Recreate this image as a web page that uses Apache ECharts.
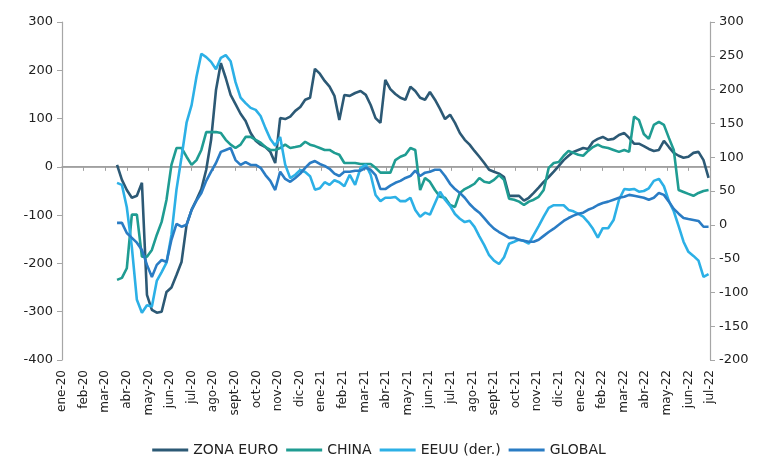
<!DOCTYPE html>
<html>
<head>
<meta charset="utf-8">
<script src="https://cdn.jsdelivr.net/npm/echarts@6/dist/echarts.min.js"></script>
<style>
html,body{margin:0;padding:0;background:#fff;}
#main{width:758px;height:464px;}
</style>
</head>
<body>
<div id="main"></div>
<script>
// etiquetas del eje X (inicio de cada mes)
var monthLabels = ['ene-20','feb-20','mar-20','abr-20','may-20','jun-20','jul-20','ago-20','sept-20','oct-20','nov-20','dic-20',
  'ene-21','feb-21','mar-21','abr-21','may-21','jun-21','jul-21','ago-21','sept-21','oct-21','nov-21','dic-21',
  'ene-22','feb-22','mar-22','abr-22','may-22','jun-22','jul-22'];

// datos semanales desde el 18-mar-2020
var firstDate = '2020-03-18';
var nWeeks = 120;

var zonaEuro = [4,-27,-48,-64,-60,-33,-265,-296,-302,-300,
  -259,-250,-224,-197,-120,-89,-68,-46,-6,56,
  159,215,184,149,130,110,95,70,54,46,
  41,31,8,101,99,104,116,124,139,143,
  203,193,178,166,147,97,149,147,153,157,
  149,128,101,91,180,161,151,143,139,166,
  157,143,139,155,139,120,99,108,91,70,
  56,46,33,21,8,-6,-10,-14,-21,-60,
  -60,-60,-70,-64,-54,-43,-31,-21,-10,2,
  14,23,31,35,39,37,52,58,62,56,
  58,66,70,60,48,48,43,37,33,35,
  54,41,29,23,19,21,29,31,14,-23];

var china = [-234,-230,-210,-99,-99,-186,-186,-172,-141,-114,
  -68,4,39,39,21,4,14,35,72,72,
  72,70,56,46,39,46,62,62,56,50,
  41,35,35,39,46,39,41,43,52,46,
  43,39,35,35,29,25,8,8,8,6,
  6,6,-2,-12,-12,-12,14,21,25,39,
  35,-48,-23,-31,-48,-62,-64,-79,-83,-54,
  -46,-41,-35,-23,-31,-33,-27,-17,-27,-66,
  -68,-72,-79,-72,-68,-62,-48,-2,8,10,
  23,33,29,25,23,33,41,46,41,39,
  35,31,35,31,104,97,68,58,87,93,
  87,60,35,-48,-52,-56,-60,-54,-50,-48];

// EEUU en el eje derecho
var eeuu = [62,59,26,-33,-111,-130,-119,-121,-83,-70,
  -56,-15,52,100,151,177,219,253,248,241,
  230,247,251,242,211,188,180,173,170,161,
  143,127,117,130,89,69,74,81,78,72,
  52,54,63,59,66,63,57,74,59,84,
  89,74,44,35,40,40,41,35,35,40,
  22,12,18,15,32,49,37,28,16,9,
  4,6,-3,-17,-30,-45,-53,-58,-48,-28,
  -25,-22,-24,-28,-15,-2,12,25,29,29,
  29,22,20,16,12,4,-6,-19,-5,-5,
  7,37,53,52,53,49,50,54,65,68,
  57,35,20,-2,-25,-40,-46,-53,-77,-73];

var global = [-116,-116,-137,-147,-157,-172,-203,-228,-203,-193,
  -197,-151,-118,-124,-120,-89,-70,-54,-29,-10,
  8,31,35,39,14,4,10,4,4,-2,
  -17,-29,-48,-10,-25,-31,-23,-14,-2,8,
  12,6,2,-4,-14,-19,-10,-10,-8,-8,
  -2,-6,-17,-46,-46,-39,-33,-29,-23,-19,
  -8,-19,-12,-10,-6,-6,-19,-35,-46,-54,
  -64,-77,-87,-95,-106,-118,-128,-135,-141,-147,
  -147,-151,-153,-155,-155,-151,-143,-135,-128,-120,
  -112,-106,-101,-97,-95,-89,-85,-79,-75,-72,
  -68,-64,-62,-58,-60,-62,-64,-68,-64,-54,
  -58,-72,-87,-97,-106,-108,-110,-112,-124,-124];

var xMin = 0, xMax = 30;
var fontFam = '"DejaVu Sans", sans-serif';
var axisGray = '#a0a0a0';

// posición en meses (0 = ene-20)
function monthPos(d){
  var y = d.getUTCFullYear(), m = d.getUTCMonth();
  var dim = new Date(Date.UTC(y, m + 1, 0)).getUTCDate();
  return (y - 2020) * 12 + m + (d.getUTCDate() - 1) / dim;
}

var t0 = new Date(firstDate + 'T00:00:00Z').getTime();
var xPos = [];
for (var i = 0; i < nWeeks; i++) {
  xPos.push(monthPos(new Date(t0 + i * 7 * 86400000)));
}

function pairs(vals){
  return vals.map(function(v, i){ return [xPos[i], v]; });
}

function mkSeries(name, vals, color, yIdx){
  return {
    name: name, type: 'line', xAxisIndex: 0, yAxisIndex: yIdx,
    data: pairs(vals), showSymbol: false, symbol: 'none', z: 3,
    lineStyle: {color: color, width: 2.6}, itemStyle: {color: color}
  };
}

var gridBox = {left: 62, right: 48, top: 22, bottom: 104};

var chart = echarts.init(document.getElementById('main'));
var option = {
  animation: false,
  backgroundColor: '#fff',
  // grid 0: series y etiquetas; grid 1 (mismo sitio): linea del cero con sus marcas
  grid: [gridBox, gridBox],
  legend: {
    bottom: 2, left: 'center',
    icon: 'rect', itemWidth: 36, itemHeight: 3, itemGap: 8,
    textStyle: {fontFamily: fontFam, fontSize: 14, color: '#222'},
    data: ['ZONA EURO', 'CHINA', 'EEUU (der.)', 'GLOBAL']
  },
  xAxis: [{
    gridIndex: 0, type: 'value', min: xMin, max: xMax, interval: 1, position: 'bottom',
    axisLine: {show: false, onZero: false},
    axisTick: {show: false},
    splitLine: {show: false},
    axisLabel: {
      rotate: 90, margin: 10, fontFamily: fontFam, fontSize: 12, color: '#222',
      formatter: function(v){ return monthLabels[Math.round(v)] || ''; }
    }
  }, {
    gridIndex: 1, type: 'value', min: xMin, max: xMax, interval: 1,
    axisLine: {show: true, onZero: true, lineStyle: {color: axisGray, width: 1.5}},
    axisTick: {show: true, length: 4, lineStyle: {color: axisGray}},
    axisLabel: {show: false},
    splitLine: {show: false}
  }],
  yAxis: [{
    gridIndex: 0, type: 'value', min: -400, max: 300, interval: 100, position: 'left',
    axisLine: {show: true, lineStyle: {color: '#a6a6a6', width: 1.2}},
    axisTick: {show: true, length: 5, lineStyle: {color: '#a6a6a6'}},
    splitLine: {show: false},
    axisLabel: {margin: 9, fontFamily: fontFam, fontSize: 13, color: '#222'}
  }, {
    gridIndex: 0, type: 'value', min: -200, max: 300, interval: 50, position: 'right',
    axisLine: {show: true, lineStyle: {color: '#a6a6a6', width: 1.2}},
    axisTick: {show: true, length: 5, lineStyle: {color: '#a6a6a6'}},
    splitLine: {show: false},
    axisLabel: {margin: 9, fontFamily: fontFam, fontSize: 13, color: '#222'}
  }, {
    gridIndex: 1, type: 'value', min: -400, max: 300, interval: 100,
    axisLine: {show: false}, axisTick: {show: false}, axisLabel: {show: false},
    splitLine: {show: false}
  }],
  series: [
    // linea de referencia en 0 (de extremo a extremo del eje)
    {
      name: 'cero', type: 'line', xAxisIndex: 1, yAxisIndex: 2, silent: true,
      data: [[xMin, 0], [xMax, 0]], showSymbol: false, symbol: 'none', z: 1,
      lineStyle: {color: axisGray, width: 1.5}
    },
    mkSeries('ZONA EURO', zonaEuro, '#2c5975', 0),
    mkSeries('CHINA', china, '#1f9c92', 0),
    mkSeries('EEUU (der.)', eeuu, '#2cb0e6', 1),
    mkSeries('GLOBAL', global, '#2a7cc4', 0)
  ]
};
chart.setOption(option);
</script>
</body>
</html>
